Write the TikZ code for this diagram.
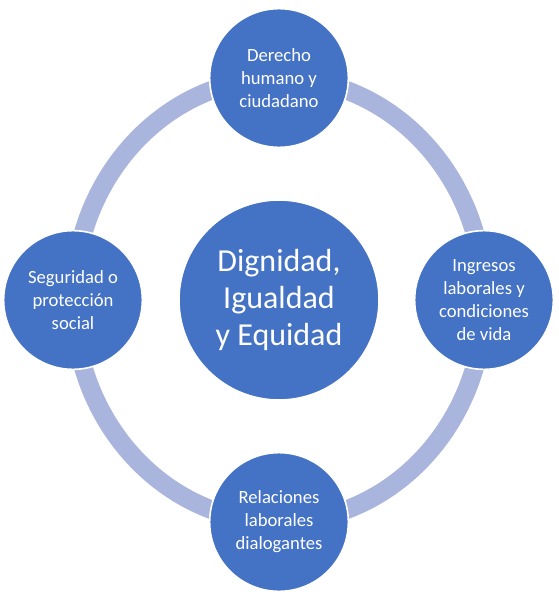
\documentclass[tikz,border=0pt]{standalone}
\usepackage{fontspec}
\setmainfont{Carlito}
\usetikzlibrary{positioning}
\definecolor{circblue}{RGB}{68,114,196}
\definecolor{ringblue}{RGB}{169,181,220}

\begin{document}
\begin{tikzpicture}[
    x=0.75pt, y=-0.75pt,
    hub/.style={circle, minimum size=150pt, inner sep=0pt, align=center, fill=circblue, draw=white, line width=1.2pt, text=white, font=\fontsize{24}{27.5}\selectfont},
    topic/.style={circle, minimum size=104pt, inner sep=0pt, align=center, fill=circblue, draw=white, line width=1.2pt, text=white, font=\fontsize{14}{17.2}\selectfont},
    ring/.style={draw=ringblue, line width=14pt}
]
\useasboundingbox (0,0) rectangle (559,599);

% Ring
\coordinate (middle) at (279,300);
\draw [ring] (middle) ellipse [x radius=154pt, y radius=166.5pt];

% Nodes
\node (dignity) [hub] at (middle) {Dignidad,\\Igualdad\\y Equidad};
\node (rights) [topic] at (279,78) {Derecho\\humano y\\ciudadano};
\node (income) [topic] at (484,300) {Ingresos\\laborales y\\condiciones\\de vida};
\node (relations) [topic] at (279,522) {Relaciones\\laborales\\dialogantes};
\node (security) [topic] at (73,300) {Seguridad o\\protección\\social};

\end{tikzpicture}
\end{document}
